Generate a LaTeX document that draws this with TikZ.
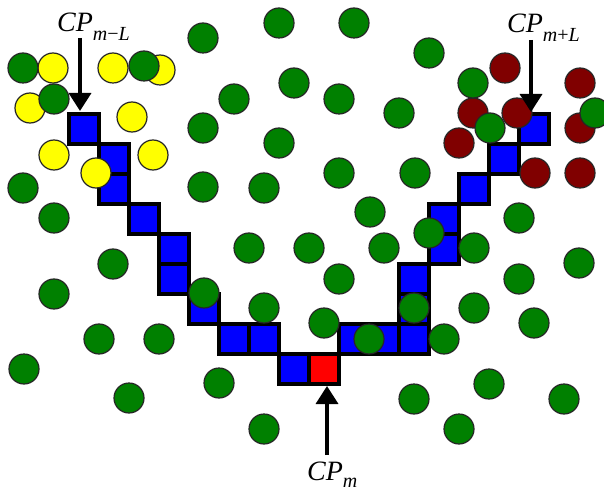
\documentclass[tikz,border=0pt]{standalone}
\usepackage{fontspec}
\newfontfamily\lblfont{Liberation Serif}
\usetikzlibrary{arrows.meta}
\definecolor{cgreen}{RGB}{0,128,0}
\definecolor{cyellow}{RGB}{255,255,0}
\definecolor{cdred}{RGB}{128,0,0}
\definecolor{cblue}{RGB}{0,0,255}
\definecolor{cred}{RGB}{255,0,0}
\newcommand{\cpsub}[2][9pt]{\raisebox{-#1}{\fontsize{20}{20}\selectfont #2}}
\begin{document}
\begin{tikzpicture}[x=1pt,y=-1pt,
  cell/.style={shape=rectangle, draw=black, line width=3.3pt, fill=cblue, minimum size=30pt, inner sep=0pt},
  redcell/.style={cell, fill=cred},
  dot/.style={shape=circle, draw=black!85, line width=1.2pt, minimum size=30pt, inner sep=0pt},
  gdot/.style={dot, fill=cgreen},
  ydot/.style={dot, fill=cyellow},
  rdot/.style={dot, fill=cdred},
  lbl/.style={inner sep=0pt, font=\lblfont\itshape\fontsize{28}{30}\selectfont},
  arr/.style={line width=3.5pt, -{Triangle[width=22pt,length=18pt]}}]
\useasboundingbox (0,0) rectangle (604,494);
\fill[white] (0,0) rectangle (604,494);
% path of cells
\foreach \c/\r [count=\i] in {0/0,1/1,1/2,2/3,3/4,3/5,4/6,5/7,6/7,7/8,9/7,10/7,11/7,11/6,11/5,12/4,12/3,13/2,14/1,15/0}
  \node[cell] (s\i) at ({84+30*\c},{129+30*\r}) {};
\node[redcell] (sm) at ({84+30*8},{129+30*8}) {};
% yellow points
\foreach \x/\y [count=\i] in {53/68,113/68,160/70,30/108,132/117,54/155,153/155,96/173}
  \node[ydot] (y\i) at (\x,\y) {};
% dark red points
\foreach \x/\y [count=\i] in {505/68,580/83,473/113,517/113,459/143,580/128,535/173,580/173}
  \node[rdot] (r\i) at (\x,\y) {};
% green points
\foreach \x/\y [count=\i] in {23/68,144/66,54/99,23/188,203/38,279/23,354/23,294/83,234/99,339/99,
  399/113,203/128,279/143,339/173,203/187,264/188,370/212,429/53,473/83,490/128,595/113,415/173,
  54/218,113/264,54/294,99/339,159/339,24/369,129/398,204/293,
  249/248,309/248,384/248,339/279,264/308,324/323,369/339,219/383,
  429/233,519/218,474/248,579/263,519/279,474/308,414/308,534/323,444/339,
  489/384,414/399,564/399,459/429,264/429}
  \node[gdot] (g\i) at (\x,\y) {};
% labels
\node[lbl, anchor=base west] (lblL) at (57,32) {CP\cpsub{m\textup{−}L}};
\node[lbl, anchor=base west] (lblR) at (507,33) {CP\cpsub{m\textup{+}L}};
\node[lbl, anchor=base west] (lblM) at (307,480) {CP\cpsub[7pt]{m}};
% arrows
\coordinate (aL0) at (80,38);  \coordinate (aL1) at (80,111);
\coordinate (aR0) at (531,40); \coordinate (aR1) at (531,112);
\coordinate (aM0) at (327,455); \coordinate (aM1) at (327,386);
\draw[arr] (aL0) -- (aL1);
\draw[arr] (aR0) -- (aR1);
\draw[arr] (aM0) -- (aM1);
\end{tikzpicture}
\end{document}
